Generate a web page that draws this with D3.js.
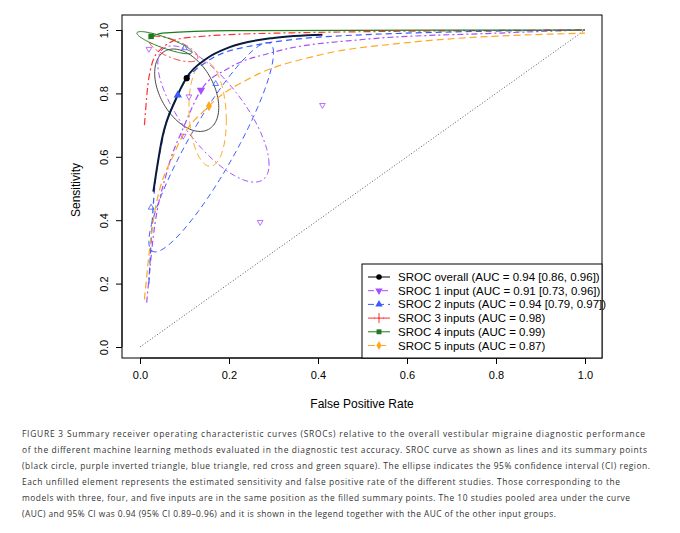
<!DOCTYPE html><html><head><meta charset="utf-8">
<script src="https://cdn.jsdelivr.net/npm/d3@7"></script>
<style>body{margin:0;background:#fff}</style></head><body><svg id="c" width="680" height="533"></svg>
<script>
const xTicks=[0,0.2,0.4,0.6,0.8,1.0];
const yTicks=[0,0.2,0.4,0.6,0.8,1.0];
const seriesNames=["SROC overall (AUC = 0.94 [0.86, 0.96])","SROC 1 input (AUC = 0.91 [0.73, 0.96])","SROC 2 inputs (AUC = 0.94 [0.79, 0.97])","SROC 3 inputs (AUC = 0.98)","SROC 4 inputs (AUC = 0.99)","SROC 5 inputs (AUC = 0.87)"];
const colors=["#000000","#a64dff","#3a5cff","#ff3030","#1e7a1e","#ffa820"];
const curveOverall=[[0.03,0.49],[0.05,0.66],[0.08,0.78],[0.105,0.85],[0.15,0.91],[0.2,0.945],[0.3,0.975],[0.41,0.985]];
const curve1=[[0.015,0.14],[0.03,0.35],[0.06,0.55],[0.1,0.7],[0.137,0.81],[0.2,0.88],[0.3,0.93],[0.5,0.97],[0.8,0.99],[1,1]];
const curve2=[[0.02,0.2],[0.03,0.45],[0.05,0.65],[0.085,0.795],[0.15,0.9],[0.25,0.95],[0.5,0.985],[1,1]];
const curve3=[[0.01,0.7],[0.02,0.85],[0.04,0.93],[0.1,0.975],[0.3,0.99],[1,1]];
const curve4=[[0.02,0.975],[0.05,0.99],[0.2,0.998],[1,1]];
const curve5=[[0.01,0.15],[0.03,0.4],[0.08,0.62],[0.155,0.76],[0.25,0.85],[0.4,0.92],[0.6,0.96],[1,0.99]];
const summary=[[0.105,0.848],[0.137,0.81],[0.085,0.795],[0.04,0.96],[0.025,0.98],[0.155,0.76]];
const ellipses=[[0.105,0.072,0.81,0.13,2.0],[0.165,0.125,0.735,0.215,2.4],[0.16,0.14,0.63,0.33,0.45],[0.075,0.055,0.94,0.04,2.3],[0.055,0.062,0.96,0.035,2.6],[0.152,0.042,0.735,0.165,1.7]];
const studies1=[[0.41,0.763],[0.27,0.394],[0.11,0.79],[0.097,0.666],[0.02,0.94]];
const studies2=[[0.17,0.83],[0.1,0.943],[0.025,0.44]];
const dashes=[null,"6,3,2,3","6,4","7,3,2,3",null,"7,4"];
const svg=d3.select("#c");
const x=d3.scaleLinear().domain([0,1]).range([140,585]);
const y=d3.scaleLinear().domain([0,1]).range([347,30]);
svg.append("rect").attr("x",122).attr("y",15).attr("width",480).attr("height",343).attr("fill","none").attr("stroke","#000");
svg.append("g").attr("transform","translate(0,358)").call(d3.axisBottom(x).tickValues(xTicks).tickFormat(d3.format(".1f")).tickSize(6).tickSizeOuter(0)).call(g=>{g.select(".domain").attr("d","M140,0H585");g.selectAll("text").attr("font-size",11).attr("font-family","Liberation Sans").attr("dy","1.1em");});
const ya=svg.append("g").attr("transform","translate(122,0)").call(d3.axisLeft(y).tickValues(yTicks).tickFormat(d3.format(".1f")).tickSize(6).tickSizeOuter(0));
ya.select(".domain").attr("d","M0,30V347");
ya.selectAll("text").attr("font-size",11).attr("font-family","Liberation Sans").attr("transform","rotate(-90)").attr("text-anchor","middle").attr("x",0).attr("y",-14).attr("dy",0);
svg.append("text").attr("x",362).attr("y",408).attr("text-anchor","middle").attr("font-size",12).attr("font-family","Liberation Sans").text("False Positive Rate");
svg.append("text").attr("transform","translate(80,190) rotate(-90)").attr("text-anchor","middle").attr("font-size",12).attr("font-family","Liberation Sans").text("Sensitivity");
svg.append("line").attr("x1",x(0)).attr("y1",y(0)).attr("x2",x(1)).attr("y2",y(1)).attr("stroke","#555").attr("stroke-dasharray","1,2");
const line=d3.line().x(d=>x(d[0])).y(d=>y(d[1])).curve(d3.curveMonotoneX);
const eline=d3.line().x(d=>x(d[0])).y(d=>y(d[1])).curve(d3.curveLinearClosed);
ellipses.forEach((e,i)=>{const pts=d3.range(0,2*Math.PI,0.05).map(t=>[e[0]+e[1]*Math.cos(t),e[2]+e[3]*Math.cos(t-e[4])]);
 svg.append("path").attr("d",eline(pts)).attr("fill","none").attr("stroke",i==0?"#444":colors[i]).attr("stroke-width",1).attr("stroke-dasharray",dashes[i]);});
const curves=[curveOverall,curve1,curve2,curve3,curve4,curve5];
[1,2,3,5,4,0].forEach(i=>svg.append("path").attr("d",line(curves[i])).attr("fill","none").attr("stroke",i==0?"#0a1a3a":colors[i]).attr("stroke-width",i==0?2:1.2).attr("stroke-dasharray",dashes[i]));
const sym=[d3.symbolCircle,d3.symbolTriangle,d3.symbolTriangle,d3.symbolCross,d3.symbolSquare,d3.symbolDiamond];
function mark(g,i,px,py,size,filled){
 if(i==3){g.append("path").attr("d",`M${px-5},${py}H${px+5}M${px},${py-5}V${py+5}`).attr("stroke",colors[i]);return;}
 g.append("path").attr("d",d3.symbol(sym[i],size)()).attr("transform",`translate(${px},${py})${i==1?" rotate(180)":""}`).attr("fill",filled?colors[i]:"none").attr("stroke",colors[i]).attr("stroke-width",filled?0:0.8);}
studies1.forEach(d=>mark(svg,1,x(d[0]),y(d[1]),14,false));
studies2.forEach(d=>mark(svg,2,x(d[0]),y(d[1]),14,false));
summary.forEach((d,i)=>{if(i!=3)mark(svg,i,x(d[0]),y(d[1]),30,true);});
const lg=svg.append("g");
lg.append("rect").attr("x",362).attr("y",264).attr("width",240).attr("height",94).attr("fill","#fff").attr("stroke","#000");
seriesNames.forEach((s,i)=>{const yy=277+i*13.7;
 lg.append("line").attr("x1",368).attr("x2",390).attr("y1",yy).attr("y2",yy).attr("stroke",colors[i]).attr("stroke-dasharray",dashes[i]);
 mark(lg,i,379,yy,24,true);
 lg.append("text").attr("x",398).attr("y",yy+4).attr("font-size",11.5).attr("font-family","Liberation Sans").text(s);});
const cap=["FIGURE 3  Summary receiver operating characteristic curves (SROCs) relative to the overall vestibular migraine diagnostic performance",
"of the different machine learning methods evaluated in the diagnostic test accuracy. SROC curve as shown as lines and its summary points",
"(black circle, purple inverted triangle, blue triangle, red cross and green square). The ellipse indicates the 95% confidence interval (CI) region.",
"Each unfilled element represents the estimated sensitivity and false positive rate of the different studies. Those corresponding to the",
"models with three, four, and five inputs are in the same position as the filled summary points. The 10 studies pooled area under the curve",
"(AUC) and 95% CI was 0.94 (95% CI 0.89–0.96) and it is shown in the legend together with the AUC of the other input groups."];
const capLen=[623,625,628,598,608,534];
cap.forEach((c,i)=>svg.append("text").attr("x",22).attr("y",437+i*16).attr("font-size",8.4).attr("font-family","Open Sans").attr("fill","#333").attr("textLength",capLen[i]).attr("lengthAdjust","spacing").text(c));
</script></body></html>
